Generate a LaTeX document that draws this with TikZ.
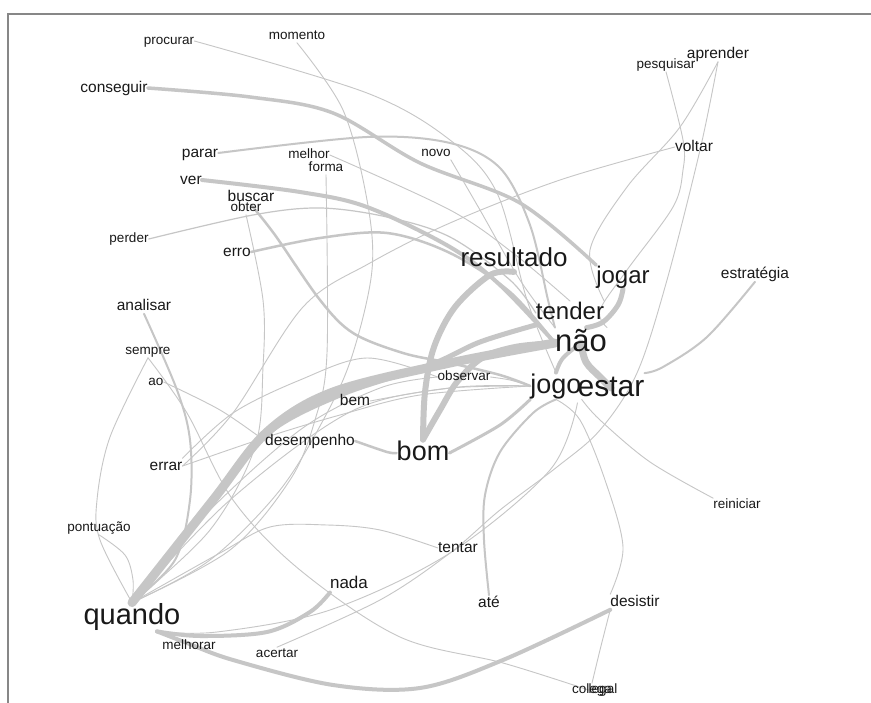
\documentclass[tikz,border=0pt]{standalone}
\usepackage{fontspec}
\setmainfont{Liberation Sans}
\definecolor{edgec}{RGB}{198,198,198}
\definecolor{txt}{RGB}{25,25,25}
\definecolor{framec}{RGB}{135,135,135}
\pgfdeclarelayer{bg}
\pgfsetlayers{bg,main}
\newcommand\mystrut{\vrule width0pt height.76em depth.22em\relax}
\begin{document}
\begin{tikzpicture}[x=1pt,y=-1pt,
  w/.style={inner sep=0pt, text=txt},
  sm/.style={w, font=\fontsize{13.5}{14}\selectfont},
  md/.style={w, font=\fontsize{15.5}{16}\selectfont},
  fs/.style={w, font=\fontsize{#1}{#1}\selectfont},
  e/.style={draw=edgec, line width=#1, line cap=round, line join=round},
  e/.default=0.9pt]
\useasboundingbox (0,0) rectangle (871,703);

% nodes
\node[sm] (procurar) at (169,41) {\mystrut procurar};
\node[sm] (momento) at (297,36) {\mystrut momento};
\node[md] (conseguir) at (114,88) {\mystrut conseguir};
\node[md] (parar) at (200,153) {\mystrut parar};
\node[sm] (melhor) at (309,155) {\mystrut melhor};
\node[sm] (forma) at (326,168) {\mystrut forma};
\node[sm] (novo) at (436,153) {\mystrut novo};
\node[md] (ver) at (191,180) {\mystrut ver};
\node[md] (buscar) at (251,197) {\mystrut buscar};
\node[sm] (obter) at (246,208) {\mystrut obter};
\node[sm] (perder) at (129,239) {\mystrut perder};
\node[md] (erro) at (237,252) {\mystrut erro};
\node[sm] (pesquisar) at (666,65) {\mystrut pesquisar};
\node[md] (aprender) at (718,54) {\mystrut aprender};
\node[md] (voltar) at (694,147) {\mystrut voltar};
\node[fs=26] (resultado) at (514,259) {\mystrut resultado};
\node[fs=24] (jogar) at (623,277) {\mystrut jogar};
\node[md] (estrategia) at (755,274) {\mystrut estratégia};
\node[md] (analisar) at (144,306) {\mystrut analisar};
\node[sm] (sempre) at (148,351) {\mystrut sempre};
\node[sm] (ao) at (156,382) {\mystrut ao};
\node[md] (bem) at (355,401) {\mystrut bem};
\node[md] (desempenho) at (310,441) {\mystrut desempenho};
\node[md] (errar) at (166,466) {\mystrut errar};
\node[fs=27] (bom) at (423,453) {\mystrut bom};
\node[fs=24] (tender) at (570,313) {\mystrut tender};
\node[fs=31] (nao) at (581,343) {\mystrut não};
\node[sm] (observar) at (464,377) {\mystrut observar};
\node[fs=27] (jogo) at (556,386) {\mystrut jogo};
\node[fs=30] (estar) at (611,388) {\mystrut estar};
\node[sm] (reiniciar) at (737,505) {\mystrut reiniciar};
\node[sm] (pontuacao) at (99,528) {\mystrut pontuação};
\node[fs=29] (quando) at (132,617) {\mystrut quando};
\node[fs=17] (nada) at (349,584) {\mystrut nada};
\node[sm] (melhorar) at (189,646) {\mystrut melhorar};
\node[sm] (acertar) at (277,654) {\mystrut acertar};
\node[md] (tentar) at (458,548) {\mystrut tentar};
\node[md] (ate) at (489,603) {\mystrut até};
\node[md] (desistir) at (635,602) {\mystrut desistir};
\node[sm] (colega) at (592,690) {\mystrut colega};
\node[sm] (legal) at (603,690) {\mystrut legal};

\begin{pgfonlayer}{bg}
\fill[white] (0,0) rectangle (871,703);
\draw[framec, line width=1.2pt] (8,703) -- (8,14) -- (871,14);
% thick bands
\draw[e=9pt] plot[smooth,tension=.55] coordinates {(quando.north) (213,500) (267,432) (333,392) (450,363) (nao.west)};
\draw[e=5pt] plot[smooth,tension=.55] coordinates {(quando.north) (213,502) (267,434) (340,395) (430,365) (480,342) (tender.south west)};
\draw[e=6pt] plot[smooth,tension=.55] coordinates {(bom.north) (425,392) (434,347) (455,307) (490,275) (resultado.south)};
\draw[e=6pt] plot[smooth,tension=.55] coordinates {(bom.north) (440,410) (457,382) (482,358) (515,347) (nao.west)};
\draw[e=3pt] plot[smooth,tension=.55] coordinates {(bom.east) (500,425) (jogo.south west)};
\draw[e=7pt] plot[smooth,tension=.6] coordinates {(nao.center) (586,362) (600,377) (estar.center)};
\draw[e=5pt] plot[smooth,tension=.6] coordinates {(jogar.south) (618,305) (603,322) (nao.70)};
\draw[e=4pt] plot[smooth,tension=.6] coordinates {(jogo.north) (563,358) (nao.center)};
\draw[e=4pt] plot[smooth,tension=.55] coordinates {(quando.-30) (200,636) (267,632) (310,612) (nada.south west)};
\draw[e=4pt] plot[smooth,tension=.55] coordinates {(quando.-30) (187,643) (233,660) (333,685) (420,688) (503,660) (desistir.south west)};
\draw[e=4pt] plot[smooth,tension=.55] coordinates {(ver.east) (300,192) (367,207) (450,247) (500,285) (nao.west)};
\draw[e=3.5pt] plot[smooth,tension=.55] coordinates {(conseguir.east) (250,97) (333,113) (420,163) (520,203) (jogar.north west)};
\draw[e=2.5pt] plot[smooth,tension=.55] coordinates {(erro.east) (320,238) (387,233) (450,253) (510,292) (nao.west)};
\draw[e=2pt] plot[smooth,tension=.55] coordinates {(parar.east) (367,137) (450,143) (500,168) (530,225) (548,300) (nao.north west)};
\draw[e=2.5pt] plot[smooth,tension=.55] coordinates {(buscar.south) (275,235) (320,300) (353,333) (403,353) (450,363) (500,375) (jogo.west)};
\draw[e=2.5pt] plot[smooth,tension=.55] coordinates {(desempenho.east) (387,452) (bom.west)};
\draw[e=2pt] plot[smooth,tension=.55] coordinates {(estrategia.south) (707,337) (663,367) (estar.north east)};
\draw[e=2pt] plot[smooth,tension=.55] coordinates {(ate.north) (484,540) (485,495) (500,452) (533,413) (jogo.south)};
\draw[e=2pt] plot[smooth,tension=.55] coordinates {(analisar.south) (177,390) (190,440) (190,500) (175,560) (quando.north)};
% thin lines
\draw[e=1.2pt] plot[smooth,tension=.55] coordinates {(perder.east) (253,215) (320,208) (387,217) (450,237) (510,280) (tender.west)};
\draw[e] plot[smooth,tension=.55] coordinates {(procurar.east) (367,93) (450,140) (497,193) (527,300) (jogo.north)};
\draw[e] plot[smooth,tension=.55] coordinates {(melhor.east) (450,210) (513,253) (tender.north)};
\draw[e] plot[smooth,tension=.55] coordinates {(momento.south) (343,110) (367,200) (372,270) (353,353) (327,413) (280,490) (210,560) (quando.north)};
\draw[e] plot[smooth,tension=.55] coordinates {(forma.south) (327,353) (315,420) (290,480) (230,550) (quando.north)};
\draw[e] plot[smooth,tension=.55] coordinates {(obter.south) (263,300) (263,367) (255,447) (210,530) (quando.north)};
\draw[e] plot[smooth,tension=.55] coordinates {(voltar.west) (560,180) (450,223) (370,263) (303,307) (233,413) (errar.east)};
\draw[e] plot[smooth,tension=.55] coordinates {(aprender.south) (680,127) (627,187) (590,250) (tender.north east)};
\draw[e] plot[smooth,tension=.55] coordinates {(aprender.south) (700,150) (667,280) (637,373) (600,430) (557,467) (500,510) (450,553) (380,600) (acertar.north)};
\draw[e] plot[smooth,tension=.55] coordinates {(pesquisar.south) (683,140) (683,170) (673,207) (627,270) (600,310) (nao.north east)};
\draw[e] plot[smooth,tension=.55] coordinates {(reiniciar.north west) (650,462) (600,420) (jogo.south east)};
\draw[e] plot[smooth,tension=.55] coordinates {(tentar.west) (380,530) (327,525) (270,527) (220,553) (quando.north)};
\draw[e] plot[smooth,tension=.55] coordinates {(desistir.north west) (623,547) (605,480) (580,420) (jogo.south)};
\draw[e] plot[smooth,tension=.55] coordinates {(desistir.south west) (600,650) (colega.north)};
\draw[e] plot[smooth,tension=.55] coordinates {(sempre.south) (187,413) (233,500) (300,570) (400,637) (503,663) (legal.west)};
\draw[e] plot[smooth,tension=.55] coordinates {(sempre.south) (110,437) (97,500) (100,540) (quando.north)};
\draw[e] plot[smooth,tension=.55] coordinates {(pontuacao.south) (125,555) (133,580) (quando.north)};
\draw[e] plot[smooth,tension=.55] coordinates {(errar.east) (267,437) (340,415) (420,395) (jogo.west)};
\draw[e] plot[smooth,tension=.55] coordinates {(errar.north east) (233,413) (300,380) (367,358) (observar.west)};
\draw[e] plot[smooth,tension=.55] coordinates {(ao.east) (220,410) (desempenho.west)};
\draw[e] plot[smooth,tension=.55] coordinates {(observar.east) (510,380) (jogo.west)};
\draw[e] plot[smooth,tension=.55] coordinates {(quando.north) (200,520) (300,430) (380,388) (observar.west)};
\draw[e] plot[smooth,tension=.55] coordinates {(quando.north) (230,500) (350,412) (450,388) (jogo.west)};
\draw[e] plot[smooth,tension=.55] coordinates {(quando.-30) (217,632) (330,610) (450,553) (550,470) (estar.south west)};
\draw[e] plot[smooth,tension=.55] coordinates {(novo.south east) (480,210) (520,280) (nao.north west)};
\draw[e] plot[smooth,tension=.55] coordinates {(bem.east) (450,388) (jogo.west)};
\end{pgfonlayer}
\end{tikzpicture}
\end{document}
